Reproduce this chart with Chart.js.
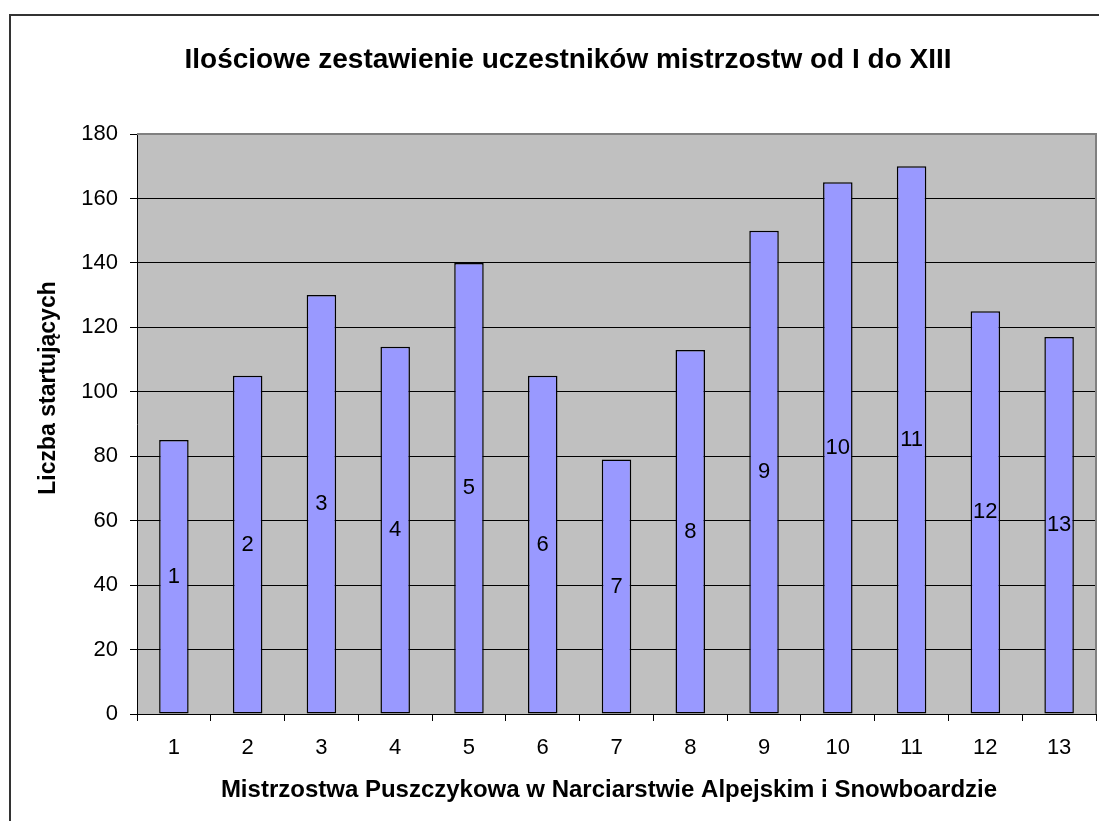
<!DOCTYPE html>
<html>
<head>
<meta charset="utf-8">
<script src="https://cdn.jsdelivr.net/npm/chart.js@4.4.0/dist/chart.umd.min.js"></script>
<style>
  html, body { margin: 0; padding: 0; background: #fff; }
  #wrap { width: 1099px; height: 821px; }
</style>
</head>
<body>
<div id="wrap"><canvas id="wykres" width="1099" height="821"></canvas></div>
<script>
// dane
const kategorie = ["1", "2", "3", "4", "5", "6", "7", "8", "9", "10", "11", "12", "13"];
const uczestnicy = [85, 105, 130, 114, 140, 105, 79, 113, 150, 165, 170, 125, 117];
const tytul = "Ilościowe zestawienie uczestników mistrzostw od I do XIII";
const tytulX = "Mistrzostwa Puszczykowa w Narciarstwie Alpejskim i Snowboardzie";
const tytulY = "Liczba startujących";

const FONT = "'Liberation Sans', Arial, sans-serif";

// rama, tytuly i etykiety w slupkach
const dodatki = {
  id: "dodatki",
  beforeDraw(chart) {
    const { ctx, chartArea: a } = chart;
    ctx.save();
    ctx.fillStyle = "#c0c0c0";
    ctx.fillRect(a.left, a.top, a.right - a.left, a.bottom - a.top);
    ctx.restore();
  },
  afterDatasetsDraw(chart) {
    const { ctx, chartArea: a } = chart;
    ctx.save();
    // ramka obszaru wykresu (gora i prawo szare)
    ctx.strokeStyle = "#808080";
    ctx.lineWidth = 2;
    ctx.beginPath();
    ctx.moveTo(a.left, a.top);
    ctx.lineTo(a.right, a.top);
    ctx.lineTo(a.right, a.bottom);
    ctx.stroke();
    ctx.restore();
  },
  afterDraw(chart) {
    const { ctx } = chart;
    ctx.save();
    // zewnetrzna ramka
    ctx.strokeStyle = "#333";
    ctx.lineWidth = 2;
    ctx.strokeRect(10, 15, 1200, 900);

    ctx.fillStyle = "#000";
    ctx.textAlign = "center";
    ctx.textBaseline = "alphabetic";
    ctx.font = "bold 28px " + FONT;
    ctx.fillText(tytul, 568, 68);

    ctx.font = "bold 24px " + FONT;
    ctx.fillText(tytulX, 609, 797);

    ctx.save();
    ctx.translate(55, 388);
    ctx.rotate(-Math.PI / 2);
    ctx.font = "bold 23px " + FONT;
    ctx.fillText(tytulY, 0, 0);
    ctx.restore();

    // numery w srodku slupkow
    ctx.font = "22px " + FONT;
    ctx.textBaseline = "middle";
    const meta = chart.getDatasetMeta(0);
    meta.data.forEach((bar, i) => {
      const y = (bar.y + bar.base) / 2;
      ctx.fillText(kategorie[i], bar.x, y);
    });
    ctx.restore();
  }
};

new Chart(document.getElementById("wykres"), {
  type: "bar",
  data: {
    labels: kategorie,
    datasets: [{
      data: uczestnicy,
      backgroundColor: "#9999ff",
      borderColor: "#000",
      borderWidth: 1.5,
      borderSkipped: false,
      categoryPercentage: 1,
      barPercentage: 0.4
    }]
  },
  options: {
    responsive: false,
    animation: false,
    layout: { padding: { top: 134, right: 3, left: 0, bottom: 0 } },
    plugins: {
      legend: { display: false },
      tooltip: { enabled: false },
      title: { display: false }
    },
    scales: {
      x: {
        offset: true,
        grid: {
          offset: true,
          drawOnChartArea: false,
          color: "#000",
          tickLength: 7
        },
        border: { color: "#000", width: 1 },
        ticks: { color: "#000", font: { family: FONT, size: 22 }, padding: 14 },
        afterFit(s) { s.height = 107; }
      },
      y: {
        min: 0,
        max: 180,
        ticks: { stepSize: 20, color: "#000", font: { family: FONT, size: 22 }, padding: 12 },
        grid: { color: "#000", tickLength: 7, lineWidth: 1 },
        border: { color: "#000", width: 1 },
        afterFit(s) { s.width = 137; }
      }
    }
  },
  plugins: [dodatki]
});
</script>
</body>
</html>
